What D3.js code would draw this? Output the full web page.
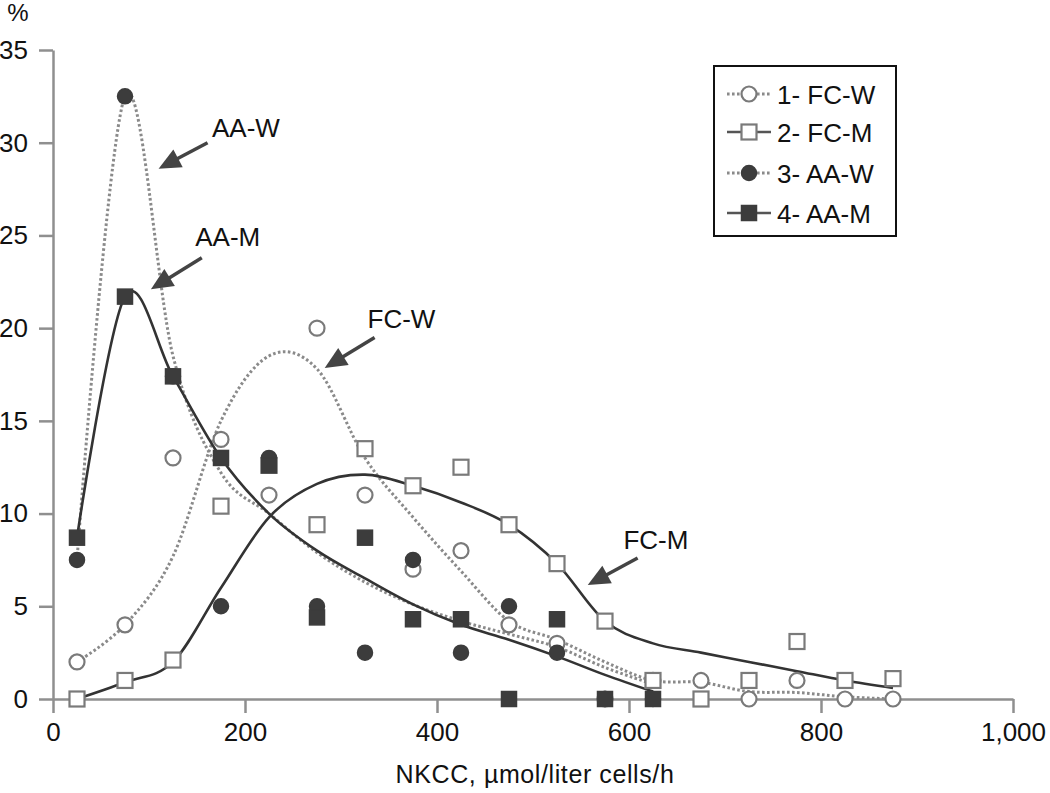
<!DOCTYPE html>
<html><head><meta charset="utf-8">
<script src="https://cdn.jsdelivr.net/npm/d3@7"></script>
<style>
body{margin:0;background:#fff;}
text{font-family:"Liberation Sans",Arial,Helvetica,sans-serif;fill:#111;}
</style></head>
<body><svg id="chart" width="1050" height="793"></svg>
<script>
// ---- data ----
const bins = [25,75,125,175,225,275,325,375,425,475,525,575,625,675,725,775,825,875];
const aaBins = [25,75,125,175,225,275,325,375,425,475,525,575,625];

// observed points (% of subjects in each NKCC bin)
const fcW = [2,4,13,14,11,20,11,7,8,4,3,0,1,1,0,1,0,0];
const fcM = [0,1,2.1,10.4,12.6,9.4,13.5,11.5,12.5,9.4,7.3,4.2,1,0,1,3.1,1,1.1];
const aaW = [7.5,32.5,17.4,5,13,5,2.5,7.5,2.5,5,2.5,0,0];
const aaM = [8.7,21.7,17.4,13,12.6,4.4,8.7,4.3,4.3,0,4.3,0,0];

// smoothed trend curves
const fcWFit = [2,4,7.7,15,18.5,17.8,13,9.8,6.9,4.2,3.2,2,1,0.9,0.4,0.35,0.12,0];
const fcMFit = [0,0.9,2.0,6.0,9.8,11.6,12.1,11.5,10.6,9.4,7.3,4.2,3,2.5,2,1.5,1,0.6];
const aaWFit = [7.5,32.5,18.5,12.2,10,7.9,6.3,5.1,4.2,3.5,2.8,1.7,0.8];
const aaMFit = [8.7,21.7,17.4,13,10,8,6.5,5.1,4,3.2,2.3,1.3,0.4];

const xTicks = [0,200,400,600,800,1000];
const xTickLabels = ["0","200","400","600","800","1,000"];
const yTicks = [0,5,10,15,20,25,30,35];
const legendLabels = ["1- FC-W","2- FC-M","3- AA-W","4- AA-M"];
const annoLabels = ["AA-W","AA-M","FC-W","FC-M"];
// annotation anchors in data units: text centre, arrow tail, arrow tip
const annoText = [[201,30.8],[182,24.9],[363,20.5],[628,8.6]];
const annoTail = [[161,30.0],[155,23.8],[335,19.5],[609,7.6]];
const annoTip  = [[110,28.6],[102,22.1],[283,17.85],[557,6.15]];

// ---- layout ----
const svg = d3.select("#chart");
const x = d3.scaleLinear().domain([0,1000]).range([53,1013]);
const y = d3.scaleLinear().domain([0,35]).range([699,50]);
const AX = "#8f8f8f";
const DARK = "#3c3c3c";
const OPEN = "#7a7a7a";

// axes
const gx = svg.append("g").attr("transform","translate(0,"+y(0)+")")
  .call(d3.axisBottom(x).tickValues(xTicks).tickFormat((d,i)=>xTickLabels[i]).tickSize(14).tickSizeOuter(0).tickPadding(10));
const gy = svg.append("g").attr("transform","translate("+x(0)+",0)")
  .call(d3.axisLeft(y).tickValues(yTicks).tickSize(14).tickSizeOuter(0).tickPadding(11));
[gx,gy].forEach(g=>{
  g.select(".domain").attr("stroke",AX).attr("stroke-width",2.5);
  g.selectAll(".tick line").attr("stroke",AX).attr("stroke-width",2.5);
  g.selectAll(".tick text").attr("font-size",26).attr("fill","#111")
   .attr("font-family","'Liberation Sans',Arial,sans-serif");
});

svg.append("text").attr("x",18).attr("y",21).attr("text-anchor","middle")
  .attr("font-size",24).text("%");
svg.append("text").attr("x",535).attr("y",783).attr("text-anchor","middle")
  .attr("font-size",25).attr("letter-spacing",0.6).text("NKCC, \u00b5mol/liter cells/h");

// curves
const line = d3.line().x(d=>x(d[0])).y(d=>y(d[1])).curve(d3.curveCatmullRom.alpha(0));
const series = [
  {pts:fcW, fit:fcWFit, xs:bins, shape:"circle", filled:false, dotted:true},
  {pts:fcM, fit:fcMFit, xs:bins, shape:"square", filled:false, dotted:false},
  {pts:aaW, fit:aaWFit, xs:aaBins, shape:"circle", filled:true, dotted:true},
  {pts:aaM, fit:aaMFit, xs:aaBins, shape:"square", filled:true, dotted:false}
];
function styleLine(sel, s){
  if(s.dotted) sel.attr("stroke","#8a8a8a").attr("stroke-width",3).attr("stroke-dasharray","2.6,2.4");
  else sel.attr("stroke","#333").attr("stroke-width",2.6);
}
series.forEach(s=>{
  const p = svg.append("path").datum(s.xs.map((v,i)=>[v,s.fit[i]]))
    .attr("d",line).attr("fill","none");
  styleLine(p,s);
});
function marker(g, s, cx, cy){
  let m;
  if(s.shape==="circle") m = g.append("circle").attr("cx",cx).attr("cy",cy).attr("r",7.5);
  else m = g.append("rect").attr("x",cx-7.5).attr("y",cy-7.5).attr("width",15).attr("height",15);
  if(s.filled) m.attr("fill",DARK).attr("stroke",DARK).attr("stroke-width",1.5);
  else m.attr("fill","#fff").attr("stroke",OPEN).attr("stroke-width",2.2);
}
series.forEach(s=>{
  const g = svg.append("g");
  s.pts.forEach((v,i)=>marker(g,s,x(s.xs[i]),y(v)));
});

// annotations
annoLabels.forEach((lab,i)=>{
  const tx=x(annoText[i][0]), ty=y(annoText[i][1]);
  svg.append("text").attr("x",tx).attr("y",ty+9).attr("text-anchor","middle")
    .attr("font-size",26).text(lab);
  const x1=x(annoTail[i][0]), y1=y(annoTail[i][1]);
  const x2=x(annoTip[i][0]), y2=y(annoTip[i][1]);
  const dx=x2-x1, dy=y2-y1, L=Math.hypot(dx,dy), ux=dx/L, uy=dy/L;
  const hl=22, hw=10;
  const bx=x2-ux*hl, by=y2-uy*hl;
  svg.append("line").attr("x1",x1).attr("y1",y1).attr("x2",bx+ux*2).attr("y2",by+uy*2)
    .attr("stroke","#444").attr("stroke-width",3.5);
  svg.append("path").attr("d",`M${x2},${y2}L${bx-uy*hw},${by+ux*hw}L${bx+uy*hw},${by-ux*hw}Z`)
    .attr("fill","#444");
});

// legend
const lg = svg.append("g");
lg.append("rect").attr("x",714).attr("y",66).attr("width",182).attr("height",170)
  .attr("fill","#fff").attr("stroke","#111").attr("stroke-width",2);
const rowY = [94,132,173,213];
series.forEach((s,i)=>{
  const ly = rowY[i];
  const l = lg.append("line").attr("x1",727).attr("x2",771).attr("y1",ly).attr("y2",ly);
  styleLine(l,s);
  if(!s.dotted) l.attr("stroke","#555");
  marker(lg,s,749,ly);
  lg.append("text").attr("x",777).attr("y",ly+9.5).attr("font-size",26).text(legendLabels[i]);
});
</script></body></html>
